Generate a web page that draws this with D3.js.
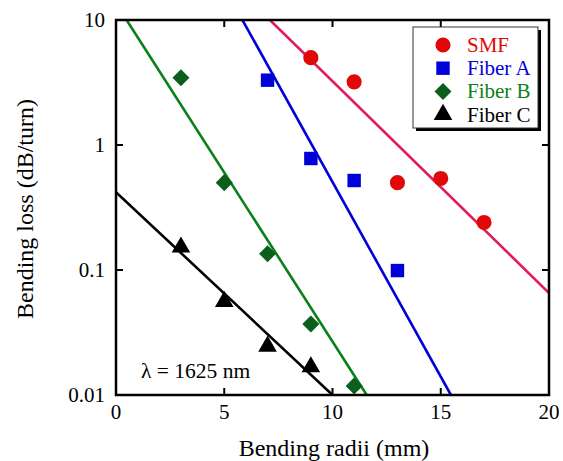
<!DOCTYPE html>
<html><head><meta charset="utf-8">
<script src="https://cdn.jsdelivr.net/npm/d3@7"></script>
<style>body{margin:0;background:#fff}svg{display:block}text{font-family:"Liberation Serif","Times New Roman",serif}</style>
</head><body>
<svg id="c" width="563" height="461"></svg>
<script>
const seriesNames = ["SMF", "Fiber A", "Fiber B", "Fiber C"];
const smfX = [9, 11, 13, 15, 17];
const smfY = [5.0, 3.2, 0.5, 0.54, 0.24];
const fiberAX = [7, 9, 11, 13];
const fiberAY = [3.3, 0.78, 0.52, 0.099];
const fiberBX = [3, 5, 7, 9, 11];
const fiberBY = [3.45, 0.5, 0.135, 0.037, 0.0118];
const fiberCX = [3, 5, 7, 9];
const fiberCY = [0.155, 0.057, 0.025, 0.0171];
// fit lines: [x, y] endpoints in data units
const smfFit = [[7.11, 10], [20, 0.0655]];
const fiberAFit = [[5.84, 10], [15.47, 0.01]];
const fiberBFit = [[0.49, 10], [11.58, 0.01]];
const fiberCFit = [[0, 0.42], [10, 0.01]];
const xTicks = [0, 5, 10, 15, 20];
const yTicks = [0.01, 0.1, 1, 10];
const yTickLabels = ["0.01", "0.1", "1", "10"];

const svg = d3.select("#c");
const L = 116, R = 549, T = 20, B = 395;
const x = d3.scaleLinear().domain([0, 20]).range([L, R]);
const y = d3.scaleLog().domain([0.01, 10]).range([B, T]);

const defs = svg.append("defs");
defs.append("clipPath").attr("id","clip").append("rect").attr("x",L).attr("y",T).attr("width",R-L).attr("height",B-T);

const series = [
  {name:"SMF", xs:smfX, ys:smfY, fit:smfFit, mcol:"#e00808", lcol:"#e01c5a", tcol:"#e00808", shape:d3.symbolCircle, size:180},
  {name:"Fiber A", xs:fiberAX, ys:fiberAY, fit:fiberAFit, mcol:"#0000d8", lcol:"#0000d8", tcol:"#0000d8", shape:d3.symbolSquare, size:180},
  {name:"Fiber B", xs:fiberBX, ys:fiberBY, fit:fiberBFit, mcol:"#0b5e1c", lcol:"#0a8018", tcol:"#0a8018", shape:d3.symbolSquare, size:145, rot:true},
  {name:"Fiber C", xs:fiberCX, ys:fiberCY, fit:fiberCFit, mcol:"#000", lcol:"#000", tcol:"#000", shape:d3.symbolTriangle, size:150},
];

const line = d3.line().x(d=>x(d[0])).y(d=>y(d[1]));
const gl = svg.append("g").attr("clip-path","url(#clip)");
series.forEach(s=>{
  gl.append("path").attr("d", line(s.fit)).attr("stroke", s.lcol).attr("stroke-width",2.6).attr("fill","none");
});

function sym(s){ return d3.symbol().type(s.shape).size(s.size)(); }
series.forEach(s=>{
  s.xs.forEach((xv,i)=>{
    const g = svg.append("path").attr("d", sym(s)).attr("fill", s.mcol);
    let tr = `translate(${x(xv)},${y(s.ys[i])})`;
    if (s.rot) tr += " rotate(45)";
    if (s.shape===d3.symbolTriangle) tr += " translate(0,1)";
    g.attr("transform", tr);
  });
});

// axes frame
svg.append("rect").attr("x",L).attr("y",T).attr("width",R-L).attr("height",B-T).attr("fill","none").attr("stroke","#000").attr("stroke-width",2.5);
const tl = 7;
xTicks.slice(1,-1).forEach(t=>{
  svg.append("line").attr("x1",x(t)).attr("x2",x(t)).attr("y1",B).attr("y2",B-tl).attr("stroke","#000").attr("stroke-width",2);
  svg.append("line").attr("x1",x(t)).attr("x2",x(t)).attr("y1",T).attr("y2",T+tl).attr("stroke","#000").attr("stroke-width",2);
});
yTicks.slice(1,-1).forEach(t=>{
  svg.append("line").attr("x1",L).attr("x2",L+tl).attr("y1",y(t)).attr("y2",y(t)).attr("stroke","#000").attr("stroke-width",2);
  svg.append("line").attr("x1",R).attr("x2",R-tl).attr("y1",y(t)).attr("y2",y(t)).attr("stroke","#000").attr("stroke-width",2);
});
xTicks.forEach(t=>{
  svg.append("text").attr("x",x(t)).attr("y",B+24).attr("text-anchor","middle").attr("font-size",21).text(t);
});
yTicks.forEach((t,i)=>{
  svg.append("text").attr("x",L-11).attr("y",y(t)+7).attr("text-anchor","end").attr("font-size",21).text(yTickLabels[i]);
});
svg.append("text").attr("x",334).attr("y",456).attr("text-anchor","middle").attr("font-size",24).text("Bending radii (mm)");
svg.append("text").attr("transform",`translate(33,209) rotate(-90)`).attr("text-anchor","middle").attr("font-size",24).text("Bending loss (dB/turn)");
svg.append("text").attr("x",141).attr("y",378).attr("font-size",21.5).text("λ = 1625 nm");

// legend
const lx=413, ly=27, lw=125, lh=101;
svg.append("rect").attr("x",lx+3).attr("y",ly+3).attr("width",lw).attr("height",lh).attr("fill","#000");
svg.append("rect").attr("x",lx).attr("y",ly).attr("width",lw).attr("height",lh).attr("fill","#fff").attr("stroke","#333").attr("stroke-width",1);
series.forEach((s,i)=>{
  const cy = ly + 18 + i*23.2;
  let tr = `translate(${lx+30},${cy})`;
  if (s.rot) tr += " rotate(45)";
  svg.append("path").attr("d", sym(s)).attr("fill", s.mcol).attr("transform", tr);
  svg.append("text").attr("x",lx+54).attr("y",cy+7).attr("font-size",21).attr("fill",s.tcol).text(s.name);
});
</script>
</body></html>
